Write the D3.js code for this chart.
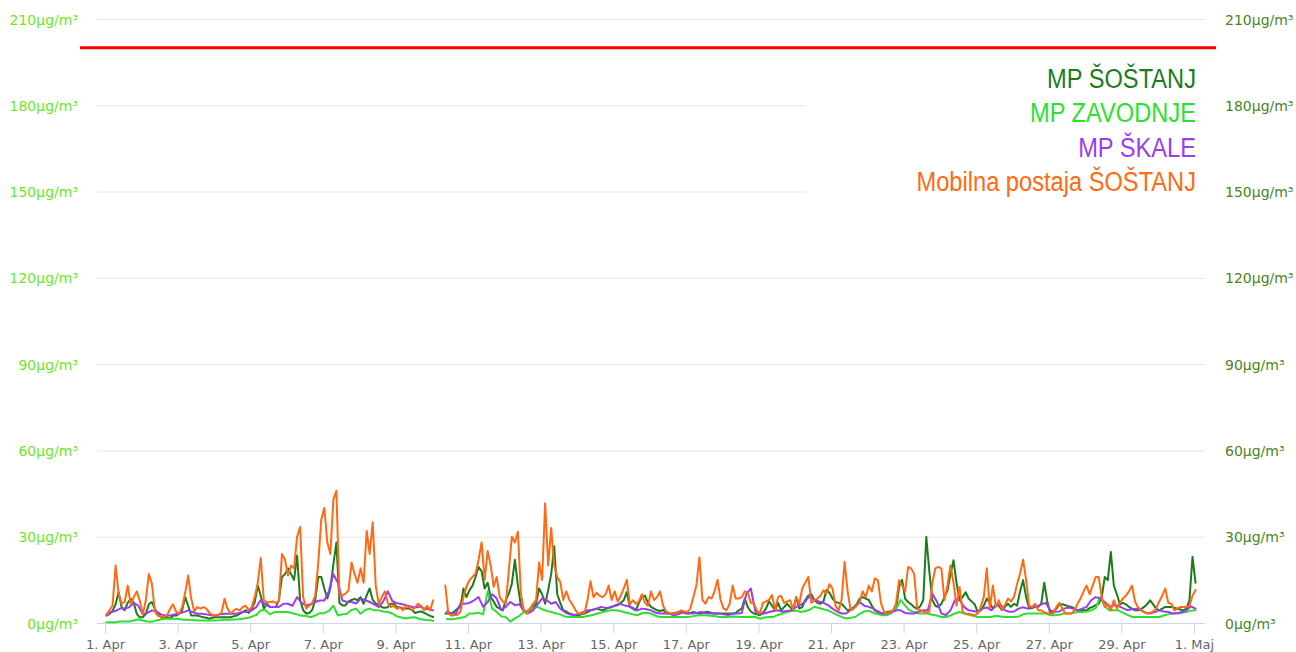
<!DOCTYPE html>
<html><head><meta charset="utf-8">
<script src="https://cdn.jsdelivr.net/npm/d3@7"></script>
<style>body{margin:0;background:#fff}svg{display:block}</style>
</head><body><svg id="c" width="1296" height="652"></svg>
<script>
// ---------------- DATA ----------------
const seriesNames = ["MP ŠOŠTANJ", "MP ZAVODNJE", "MP ŠKALE", "Mobilna postaja ŠOŠTANJ"];
const seriesColors = ["#1b7c1b", "#2ee02e", "#9b3cf0", "#ff6a14"];
// MP ŠOŠTANJ – every 2 h from 1 Apr 01:00
const sostanj = [
2.6,3.2,4.2,6.5,10.7,5.5,4.4,7,8.4,7,3.2,2,
2,3.2,6.5,7.3,4.9,3.2,2,1.5,2,1.5,2.6,2.6,
3.2,4.4,9,6,2.6,2.6,2.6,2.3,2,1.8,1.5,1.8,
2,2,2,2,2,2,2.3,2.6,3.2,3.8,4.4,3.5,
4.9,7.3,13,9.5,5,6.7,5.6,5.6,5.6,8,16,17,
19,17,15,23.5,8,4.5,3.3,3.5,4.5,8,16,16,
12,8.5,12,20.5,28,7,6.1,6.1,7.5,8,8.4,7.9,
9,6.7,9.6,12,8,6.7,6.5,5.5,5.3,5.5,6.7,6.7,
5.5,5.5,5,5,5,4.5,3.5,3.8,4,3.5,3,2.5,
2.1,null,null,null,3.3,3.3,3.3,4,5,5.6,12,9,
11.4,13,16,19.5,18,12,14,9,7.5,5.6,5,4.4,
8,10.2,13.7,22,13,6,4,3.3,4.5,5.6,6.7,12,
10,6.7,11.4,17,26.7,10,7,4.4,4,3.3,3,2.7,
2.7,3,3.3,3.8,4.4,4.7,5,4.7,4.4,4.8,5.3,5.6,
6,6.2,7,7.9,10.8,5.6,5,4.4,7,9.1,9.5,7,
5.6,5,4.4,4.2,4.5,3.5,3.3,3.3,3.5,3.8,3.8,3.5,
3.3,3.5,3.8,3.5,3.3,3.5,3.8,3.8,3.5,3.3,3.3,3.3,
3.3,3.3,3.3,3.3,3.5,4.4,5,8.5,5.5,4,3.3,3,
2.7,3.5,5,7.5,6,4.4,7,4.4,5.5,6.7,5.5,4.4,
9,5,5.5,8,9.5,10,8,7,6.7,7.5,11.5,10.5,
8.5,7.3,7,6.7,5.5,4.4,4.8,5.4,6.5,8.5,9,8.5,
8,6,4.4,3.8,3.3,3.3,3.8,4,4.2,4.4,12.6,15,
8.5,7.3,6.5,5.5,4.9,5.8,8,30,18,8,6,5.5,
6.7,9,11.3,17,21.8,14,8,9,10.7,8.5,7.5,6.5,
3.8,4.4,6,8.5,7,5,6.5,6,4.5,5.6,6.7,5.6,
6.7,6,11,14.9,9,5,5.2,5.6,5.6,6.7,14,7.5,
3.3,4,5,6.5,6.5,6.2,5.8,5.6,5,4.4,4.4,4.4,
4.4,5.2,5.6,6.2,6.7,9,16,14.9,24.7,13,10,6.5,
7,6.5,5.6,5,4.4,4.4,4.8,5.6,6.5,7.9,6.5,5,
4.4,5,5.6,5.6,5.6,5.3,5,4.7,4.4,5,8,23,
14];
// MP ZAVODNJE – every 3 h from 1 Apr 01:00
const zavodnje = [
0.3,0.3,0.3,0.5,0.5,0.5,0.9,1.3,
0.9,0.5,0.4,0.9,1.2,1.5,1.5,1.5,
1.4,1.1,1.1,1,0.9,0.9,0.9,0.9,
0.9,1,1.2,1.1,1.2,1.3,1.5,1.7,
2.2,2.8,4.4,4.4,3,3.8,3.8,3.8,
3.8,3.4,3,2.5,2.5,2,2.6,3.4,
3.4,4.2,6,2.6,3,3.2,4.5,5,
3.2,4.5,5,4.4,4.4,4,3.8,3.3,
2.3,1.9,1.6,1.9,2,1.4,1.1,1,
0.8,null,null,1.4,1.3,1.5,1.8,2.1,
3.3,3.3,3.6,3,11,5,3.8,2.3,
2,0.5,1.6,2.5,3.8,4.6,5.2,5.6,
4.8,4.2,3.8,3.4,3,2.3,2.1,2.1,
2.1,2.1,2.4,2.7,3.2,3.6,4,4.4,
4.4,4.3,3.8,3.5,3,2.7,3.4,3.6,
3.3,2.5,2.1,2.1,2.1,2.1,2.1,2.1,
2.1,2.3,2.6,2.7,2.7,2.5,2.4,2.1,
2.1,2.1,2.3,2.2,2.1,2.1,2.1,2.1,
1.5,1.9,2.1,2.1,2.8,3.4,3.8,4.2,
4.3,3.8,4.2,4.6,5.6,5.2,4.8,4.4,
3.6,2.8,2.1,1.6,1.8,2.1,3.2,4,
4.3,3.5,3.1,2.7,2.7,3.5,4.8,8,
6,4.4,3.8,3.3,3.3,3.3,2.9,2.6,
2.1,2.1,2.6,3.3,3.8,3.3,2.9,2.5,
2.1,2.1,2.1,2.1,2.5,2.3,2.1,2.1,
2.1,2.2,3,3.3,3.3,3.3,3.3,3.3,
2.7,2.7,2.9,3.3,3.3,3.5,3.8,3.8,
4,4.4,5.2,9,5.8,4.4,4.4,4.4,
3.6,2.8,2.1,2.1,2.1,2.1,2.1,2.1,
2.1,2.6,3,3.3,3.3,3.6,3.8,4.3,
4.4];
// MP ŠKALE – every 3 h from 1 Apr 01:00
const skale = [
2.6,3.8,4.2,5,5,5.5,7,6,
3,3.5,4.4,4,3,2.6,2.6,3,
3.3,3.8,4.4,3.8,3.2,3.2,3,2.7,
2.6,3,3.2,3.2,3.2,3.4,3.8,3.8,
4.4,5.5,8,6.5,5.6,5.6,5.6,6.7,
6.7,6,9,7,6.1,6.5,7.3,7.8,
7.8,11,17,14,7.8,7.3,7.3,6.8,
8.4,8,7.3,6.5,5.5,7.5,11,7.6,
6.9,6.6,6.2,5.7,5.4,5.7,5.1,4.8,
4.4,null,null,4,3.3,3.3,6.7,6.7,
7,7.9,9,5.6,7.3,10,8.5,4.6,
5.6,7.3,6.2,6.5,4.4,3.4,4.4,6.5,
8.5,8,6.7,7.3,5,3.8,3,2.7,
3.1,3.8,4.4,4.4,5,5.6,5.2,5.4,
6,6.7,6.2,5.8,5.3,4.4,5,4.8,
4.4,3.6,3.3,3.3,3.3,2.7,3,3.8,
3.3,3.3,3.5,3.8,3.5,3.3,3.3,3.3,
3,2.8,3.2,3.3,3.5,10,12,4,
3.3,3.3,3.8,4.2,4.4,4,4.2,4.4,
5.6,6.3,7.5,9.5,7.9,7.5,7,6.2,
5,4,3.3,3.3,4.5,5.6,7.3,6,
5.6,5,4,3.3,3.3,3.8,4.4,4.4,
3.5,3.3,3.3,4,4.4,4.4,10.2,7.5,
3.3,2.8,4.4,8,8,5.6,4.4,4.2,
3.8,5,5.4,4.4,6,6.5,4.4,3.9,
4,5,5.5,5,5.6,5.6,6.5,7,
4.4,3.9,4,5,5.4,5,4.4,5,
5.6,7.9,9,8.5,7.3,5.6,6.2,6,
5.2,4.5,4.8,5,4.4,3.6,3.3,3.8,
4.4,4,3.8,3.3,3.5,3.8,4.4,5.8,
5];
// Mobilna postaja ŠOŠTANJ – every 2 h from 1 Apr 01:00
const mobilna = [
3.0,4.4,6.1,20,10.2,6.7,7.3,13,6.5,9,11,7.8,
3,8,17,13.7,4,2.5,2.2,2.3,2.6,4.9,6.5,4,
3.2,5.5,10.5,16.5,8.5,4,5.5,5,5.5,5,3.5,2.8,
2.6,2.8,3.5,8.4,5,3.2,4.3,4.9,4.4,5.5,6,4.5,
5.5,9,14,22.6,8,7.2,7.3,7.5,7,7.5,24,22,
16.5,20,19,30,33.4,9,5,6,7,9.5,21,36,
40,28,24,43,46,9.5,9.6,10.2,11.3,21,17,14,
19,14,32,24,35,13,6.5,9,11,7,5.5,6,
4.9,5.5,4.4,6.1,5.5,4.4,5.5,6.7,6,4.4,6,4.4,
7.9,null,null,null,13,3.3,2.5,2.8,2.8,4,9,12.6,
14.9,16,17.2,22,28,15,25,20,12.6,16,9,7.5,
6.7,18.4,30,28,31.7,10,4.4,3.3,5,6.7,7.9,21,
15,41.6,20,33,20,16,14.3,8,11,8,6.5,4.5,
3.3,3.3,3.3,8,14.5,9,10.5,9.5,9,10,13,8,
11,7.5,9.5,12,15,6.5,7.9,6.7,7.5,10,7,6,
11,8,9,11,6,4,3.5,3.3,3.3,3.8,4.4,4,
3.8,5,9,13,22.8,8,6.7,9,8.5,11,15,8,
5,4.5,6.7,13,8.5,8.5,9,11,10.5,7,6.7,4.4,
3.3,7,7.5,8,9.7,4.5,9,9.5,7,7.5,7.9,4.6,
9,6.7,12,14,16,7,7.9,8.5,9.5,11.4,10.2,13.5,
12,6,4.4,8,21.3,11,4.4,5,6,7.5,11,9,
13,11,15.5,14.9,7,4,3.3,3.8,4.5,6.7,14.9,13,
11,19.5,19,17,5,4.5,4,3.5,4,14,19,19.5,
18.9,8,13,20,14,6,12.5,4,3.2,3.2,3,2.6,
3.3,5.6,9,19,5,13,5.6,7.9,4.6,6.2,8.5,7.5,
9,13.5,17.2,22,15,6,5.6,6.7,4.4,4.4,3.8,3.3,
3.3,3.3,5.6,7,5,3.3,3.3,3.3,4.5,6.7,8.5,11,
13,10,13,16,16,9,5.6,6.7,4.4,7.9,5,7,
8.5,9.5,11,13,7.5,5.5,4.4,3.8,3.3,3.5,4,5,
7.5,9.5,12,7,6.7,4.4,5,5.6,5.6,5.6,6,9.5,
11.5];
const seriesData = [sostanj, zavodnje, skale, mobilna];
const seriesStepHours = [2, 3, 3, 2];
const seriesStartHour = 1;
const yTicks = [0, 30, 60, 90, 120, 150, 180, 210];
const yUnit = "µg/m³";
const xTickLabels = ["1. Apr","3. Apr","5. Apr","7. Apr","9. Apr","11. Apr","13. Apr","15. Apr",
  "17. Apr","19. Apr","21. Apr","23. Apr","25. Apr","27. Apr","29. Apr","1. Maj"];
const xTickStepDays = 2;
const limitValue = 200;

// ---------------- LAYOUT ----------------
const plotL = 97, plotR = 1205, plotT = 19, plotB = 623;
const t0 = Date.UTC(2020, 3, 1), t1 = Date.UTC(2020, 4, 1);
const HOUR = 3600000, DAY = 24 * HOUR;

const svg = d3.select("#c");
const x = d3.scaleUtc().domain([new Date(t0), new Date(t1)]).range([105, 1194]);
const y = d3.scaleLinear().domain([0, 210]).range([plotB, plotT]);

// gridlines
svg.append("g").selectAll("line").data(yTicks.filter(v => v > 0)).join("line")
  .attr("x1", plotL).attr("x2", plotR)
  .attr("y1", d => y(d) + 0.5).attr("y2", d => y(d) + 0.5)
  .attr("stroke", "#e6e6e6").attr("stroke-width", 1);

// left axis labels
svg.append("g").selectAll("text").data(yTicks).join("text")
  .attr("x", 78).attr("y", d => y(d) + 5.5)
  .attr("text-anchor", "end")
  .attr("font-family", "DejaVu Sans, Verdana, sans-serif").attr("font-size", 14)
  .attr("fill", "#6ee52a")
  .text(d => d + yUnit);
// right axis labels
svg.append("g").selectAll("text").data(yTicks).join("text")
  .attr("x", 1225).attr("y", d => y(d) + 5.5)
  .attr("text-anchor", "start")
  .attr("font-family", "DejaVu Sans, Verdana, sans-serif").attr("font-size", 14)
  .attr("fill", "#4a8520")
  .text(d => d + yUnit);

// x axis
const xTickDates = xTickLabels.map((_, i) => new Date(t0 + i * xTickStepDays * DAY));
const xAxis = svg.append("g").attr("transform", `translate(0,${plotB + 0.5})`)
  .call(d3.axisBottom(x).tickValues(xTickDates).tickFormat((d, i) => xTickLabels[i])
    .tickSize(10).tickPadding(6));
xAxis.select(".domain").remove();
xAxis.selectAll(".tick line").attr("stroke", "#ccd6eb");
xAxis.selectAll(".tick text").attr("fill", "#666666")
  .attr("font-family", "DejaVu Sans, Verdana, sans-serif").attr("font-size", 13);
svg.append("line").attr("x1", plotL).attr("x2", plotR)
  .attr("y1", plotB + 0.5).attr("y2", plotB + 0.5)
  .attr("stroke", "#ccd6eb").attr("stroke-width", 1);

// limit line
svg.append("line").attr("x1", 80).attr("x2", 1216)
  .attr("y1", y(limitValue)).attr("y2", y(limitValue))
  .attr("stroke", "#ff0000").attr("stroke-width", 3);

// series lines
const line = d3.line()
  .defined(d => d.v !== null)
  .x(d => x(d.t)).y(d => y(d.v));
seriesData.forEach((arr, si) => {
  const pts = arr.map((v, i) => ({ t: new Date(t0 + (seriesStartHour + i * seriesStepHours[si]) * HOUR), v }));
  svg.append("path").datum(pts)
    .attr("fill", "none").attr("stroke", seriesColors[si])
    .attr("stroke-width", 2).attr("stroke-linejoin", "round").attr("stroke-linecap", "round")
    .attr("d", line);
});

// legend
svg.append("rect").attr("x", 806).attr("y", 56).attr("width", 399).attr("height", 146).attr("fill", "#fff");
const legendBase = [87.5, 122, 156.5, 191];
seriesNames.forEach((name, i) => {
  svg.append("g").attr("transform", `translate(1196,${legendBase[i]}) scale(0.845,1)`)
    .append("text").attr("text-anchor", "end")
    .attr("font-family", "Liberation Sans, Arial, sans-serif").attr("font-size", 28)
    .attr("fill", seriesColors[i]).text(name);
});
</script>
</body></html>
